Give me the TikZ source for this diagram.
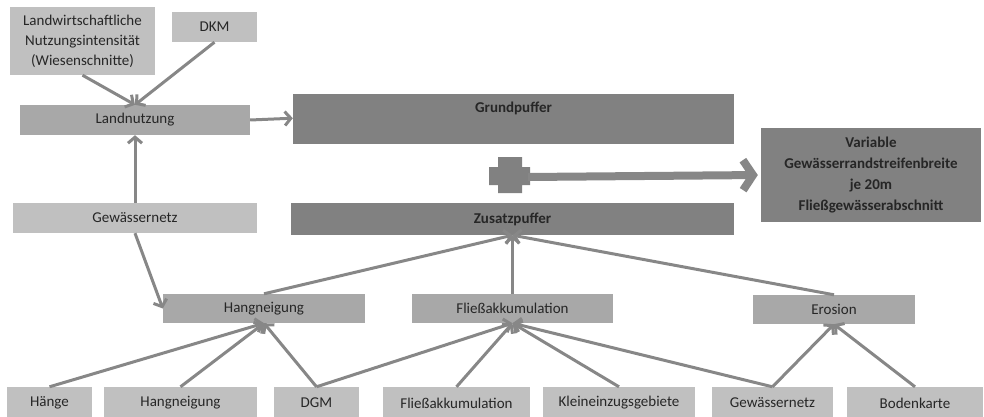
\documentclass[tikz,border=0pt]{standalone}
\usepackage{fontspec}
\setmainfont{Carlito}
\usetikzlibrary{arrows.meta}
\definecolor{lightbox}{HTML}{C0C0C0}
\definecolor{midbox}{HTML}{A8A8A8}
\definecolor{darkbox}{HTML}{818181}
\definecolor{arrowgray}{HTML}{878787}
\definecolor{txt}{HTML}{262626}
\tikzset{
  base/.style={rectangle, inner sep=0pt, text=txt, font=\fontsize{15}{20}\selectfont, align=center},
  light/.style={base, fill=lightbox},
  mid/.style={base, fill=midbox},
  dark/.style={base, fill=darkbox, font=\fontsize{15}{21}\selectfont\bfseries},
  conn/.style={draw=arrowgray, line width=3pt, -{Straight Barb[length=6pt,width=14pt]}},
  bigconn/.style={draw=arrowgray, line width=8pt, -{Straight Barb[length=10pt,width=30pt]}},
}
\begin{document}
\begin{tikzpicture}[x=1pt,y=-1pt]
\useasboundingbox (0,0) rectangle (984,417);
% top left
\node[light, minimum width=145pt, minimum height=68pt] (lni) at (82.5,41) {Landwirtschaftliche\\Nutzungsintensität\\(Wiesenschnitte)};
\node[light, minimum width=85pt, minimum height=30pt] (dkm) at (214.5,27) {DKM};
\node[mid, minimum width=230pt, minimum height=30pt] (ln) at (135,120) {Landnutzung};
\node[light, minimum width=244pt, minimum height=30pt] (gw) at (135,218) {Gewässernetz};
% dark boxes
\node[dark, minimum width=441pt, minimum height=50pt, anchor=north] (grund) at (513.5,94) {};
\node[dark] at (513.5,108) {Grundpuffer};
\node[dark, minimum width=443pt, minimum height=32pt] (zus) at (512.5,219) {Zusatzpuffer};
\node[dark, minimum width=220pt, minimum height=94pt] (var) at (871,175) {Variable\\Gewässerrandstreifenbreite\\je 20m\\Fließgewässerabschnitt};
% plus sign
\fill[darkbox] (498,157) -- (522,157) -- (522,167) -- (530,167) -- (530,185) -- (522,185) -- (522,193) -- (498,193) -- (498,185) -- (489,185) -- (489,167) -- (498,167) -- cycle;
\coordinate (plus) at (528,177);
% middle row
\node[mid, minimum width=202pt, minimum height=29pt] (hang) at (264,308.5) {Hangneigung};
\node[mid, minimum width=201pt, minimum height=29pt] (fliess) at (512.5,308.5) {Fließakkumulation};
\node[mid, minimum width=162pt, minimum height=29pt] (ero) at (834,309.5) {Erosion};
% bottom row
\node[light, minimum width=85pt, minimum height=32pt] (haenge) at (49.5,403) {Hänge};
\node[light, minimum width=153pt, minimum height=32pt] (hang2) at (180.5,403) {Hangneigung};
\node[light, minimum width=85pt, minimum height=32pt] (dgm) at (316.5,403) {DGM};
\node[light, minimum width=147pt, minimum height=32pt] (fliess2) at (456.5,403) {Fließakkumulation};
\node[light, minimum width=152pt, minimum height=32pt] (klein) at (619,403) {Kleineinzugsgebiete};
\node[light, minimum width=121pt, minimum height=32pt] (gw2) at (772.5,403) {Gewässernetz};
\node[light, minimum width=136pt, minimum height=32pt] (boden) at (915,403) {Bodenkarte};
% connectors
\draw[conn] (lni.south) -- (ln.north);
\draw[conn] (dkm.south) -- (ln.north);
\draw[conn] (gw.north) -- (ln.south);
\draw[conn] (ln.east) -- ([yshift=1pt]grund.west);
\draw[conn] (gw.south) -- (hang.west);
\draw[conn] (hang.north) -- (zus.south);
\draw[conn] (fliess.north) -- (zus.south);
\draw[conn] (ero.north) -- (zus.south);
\draw[bigconn, shorten >=3pt] (plus) -- (var.west);
\draw[conn] (haenge.north) -- (hang.south);
\draw[conn] (hang2.north) -- (hang.south);
\draw[conn] (dgm.north) -- (hang.south);
\draw[conn] (dgm.north) -- (fliess.south);
\draw[conn] (fliess2.north) -- (fliess.south);
\draw[conn] (klein.north) -- (fliess.south);
\draw[conn] (gw2.north) -- (fliess.south);
\draw[conn] (gw2.north) -- (ero.south);
\draw[conn] (boden.north) -- (ero.south);
\end{tikzpicture}
\end{document}
